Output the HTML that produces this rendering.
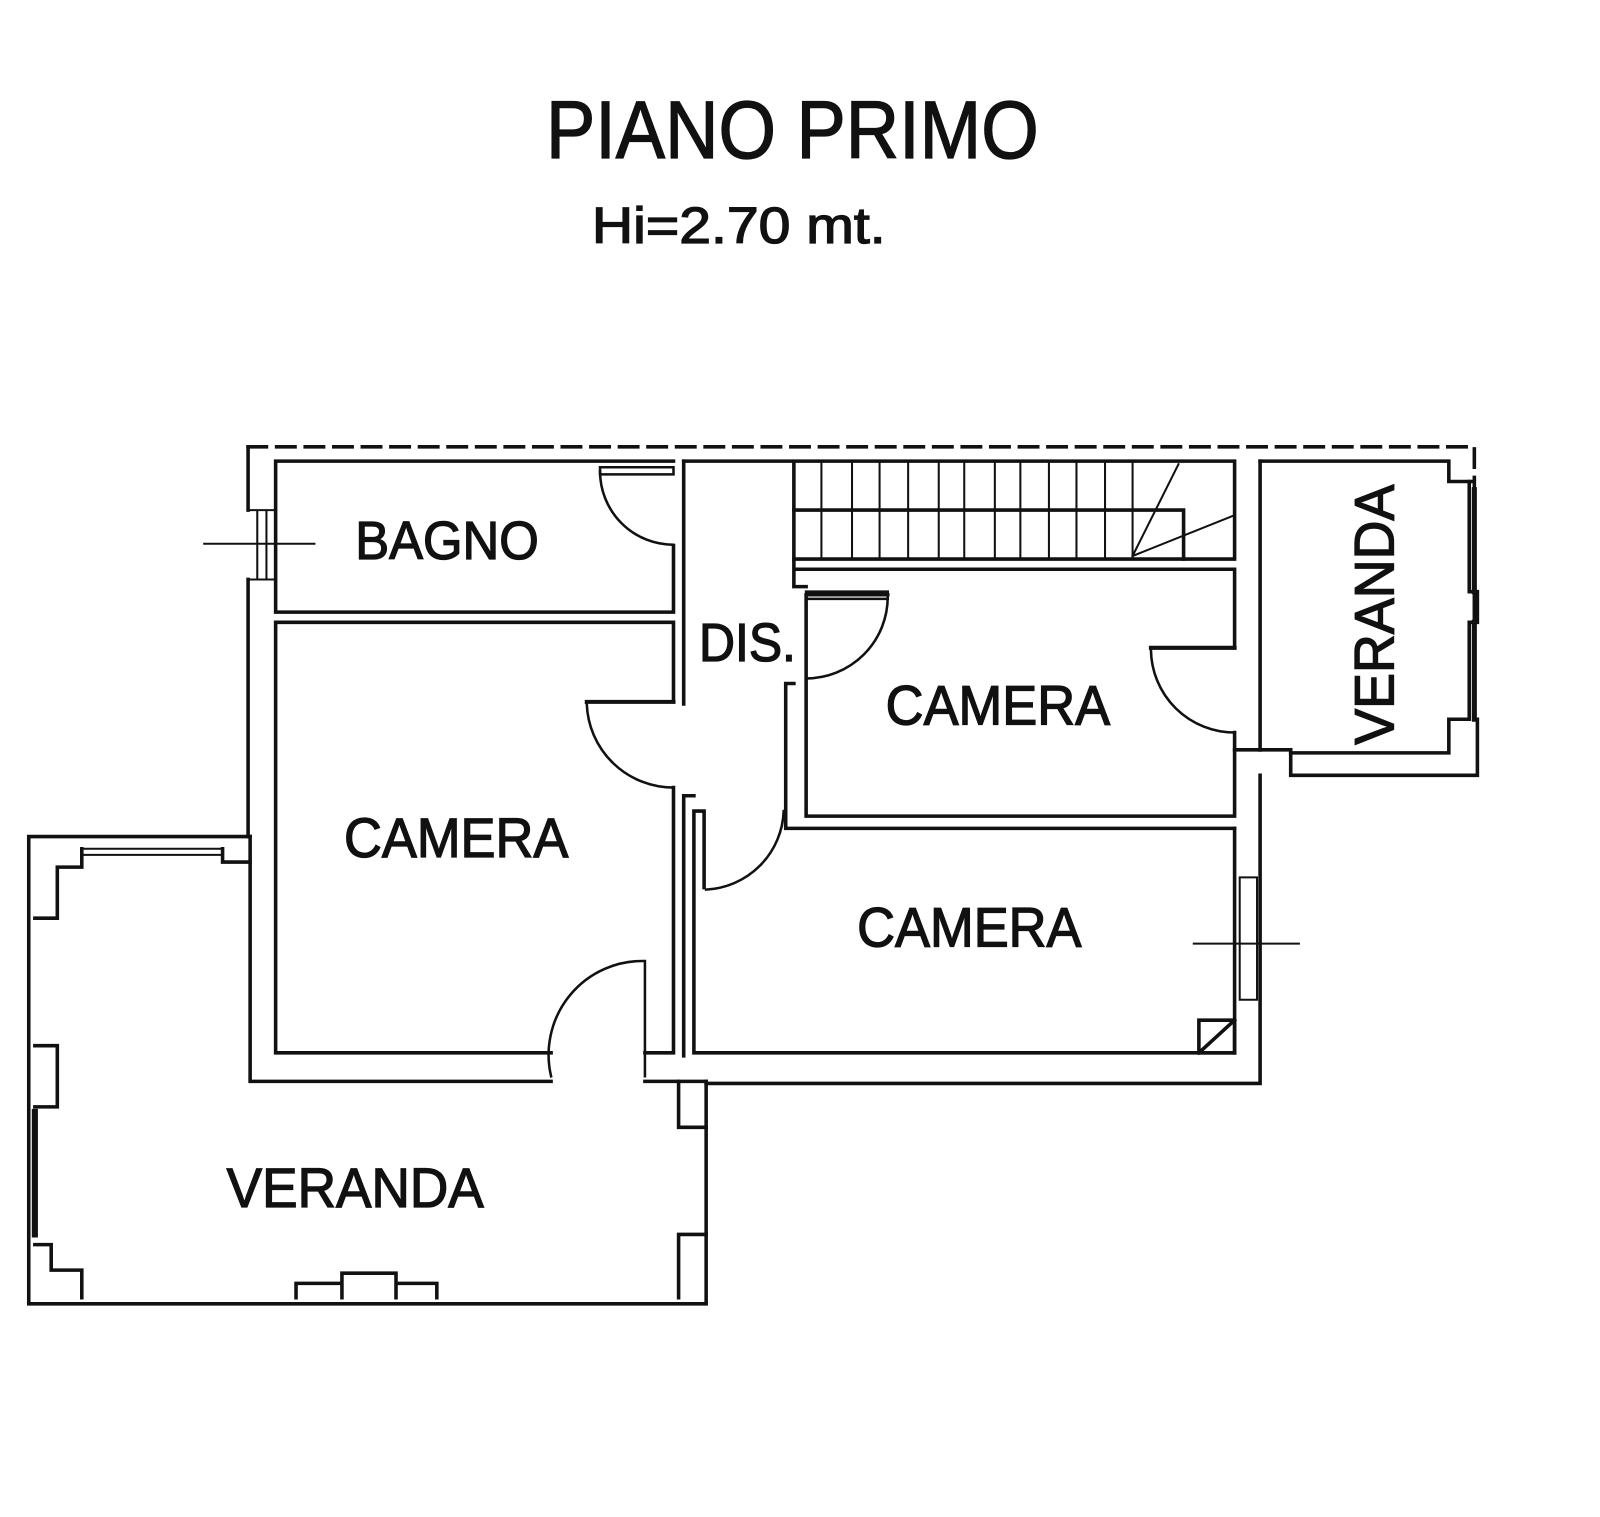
<!DOCTYPE html>
<html><head><meta charset="utf-8"><style>
html,body{margin:0;padding:0;background:#fff;}
svg{display:block;}
text{font-family:"Liberation Sans",Arial,sans-serif;fill:#111;stroke:#111;stroke-width:1.3;}
</style></head><body>
<svg width="1600" height="1517" viewBox="0 0 1568 1487" xmlns="http://www.w3.org/2000/svg">
<g stroke="#111" stroke-width="3.5" fill="none" stroke-linecap="square">
<path d="M243 438 H1445 V470" stroke-dasharray="18 10"/>
<path d="M243 438 V500 M243 568 V820"/>
<path d="M243 500 H270 M243 568 H270 M252 500 V568 M261 500 V568" stroke-width="2"/>
<path d="M200 533 H308" stroke-width="2"/>
<path d="M270 452 H660 M270 452 V600 H660 V535"/>
<path d="M588 458 H660 V465 H588 Z" stroke-width="2.5"/>
<path d="M588 462 A72 72 0 0 0 660 534" stroke-width="2.5"/>
<path d="M670 452 H775"/>
<path d="M270 610 H660 V688 M270 610 V1032 H540 M632 1032 H660 V772"/>
<path d="M575 688 H660" stroke-width="4"/>
<path d="M575 690 A85 85 0 0 0 660 772" stroke-width="2.5"/>
<path d="M632 942 V1055 M540 1055 A92 92 0 0 1 632 942" stroke-width="2.5"/>
<path d="M670 452 V690 M670 780 V1035 M670 780 H680" />
<path d="M245 820 V1060 H540 M632 1060 H692"/>
<path d="M28 820 H245 M28 820 V1278 H692 V1060"/>
<path d="M80 832 H218 M80 838 H218" stroke-width="2"/>
<path d="M34 900 H56 V850 H80 V832 M218 832 V845 H245"/>
<path d="M34 1025 H56 V1085 H34"/>
<path d="M34 1220 H50 V1245 H80 V1272"/>
<path d="M290 1272 V1258 H335 V1248 H388 V1258 H428 V1272 M335 1248 V1272 M388 1248 V1272"/>
<path d="M665 1272 V1210 H692 M665 1060 V1105 H692"/>
<path d="M34 1090 V1210" stroke-width="6"/>
<path d="M680 795 V1032 H1210 M690 795 V870 M680 795 H690"/>
<path d="M692 872 A80 80 0 0 0 768 795" stroke-width="2.5"/>
<path d="M770 795 V812 H1210 M770 795 V670 H778"/>
<path d="M778 452 H1210 V548 H778 Z"/>
<path d="M778 500 H1160 V548"/>
<g stroke-width="2">
<path d="M805 452 V548 M835 452 V548 M862 452 V548 M890 452 V548 M920 452 V548 M945 452 V548 M975 452 V548 M1000 452 V548 M1028 452 V548 M1055 452 V548 M1083 452 V548 M1110 452 V548"/>
<path d="M1110 545 L1155 455 M1110 545 L1210 505"/>
</g>
<path d="M778 558 H1210 V635 M778 548 V575 H790"/>
<path d="M790 583 V800 H1210 V718 M790 583 H870"/>
<path d="M790 580 H870 V587 H790" stroke-width="2.5"/>
<path d="M870 585 A80 80 0 0 1 790 665" stroke-width="2.5"/>
<path d="M1128 635 H1210" stroke-width="4"/>
<path d="M1128 637 A82 82 0 0 0 1210 718" stroke-width="2.5"/>
<path d="M1210 812 V1032 M1235 452 V735 M1235 760 V1062 H692"/>
<path d="M1215 860 H1232 V980 H1215 Z" stroke-width="2"/>
<path d="M1170 925 H1273" stroke-width="2"/>
<path d="M1175 1000 H1210 V1032 H1175 Z M1175 1032 L1210 1000"/>
<path d="M1235 452 H1420 V472 H1445 V705 M1235 735 H1265 V760 H1448 V705 H1445"/>
<path d="M1265 738 H1420 V705 H1440"/>
<path d="M1440 472 V580 H1448 V610 H1440 V705"/>
<path d="M1445 480 V580 M1445 610 V705" stroke-width="5"/>
<path d="M1210 735 H1235" />
</g>
<text x="535" y="155" font-size="80" textLength="483" lengthAdjust="spacingAndGlyphs">PIANO PRIMO</text>
<text x="580" y="238" font-size="50" textLength="288" lengthAdjust="spacingAndGlyphs">Hi=2.70 mt.</text>
<text x="348" y="548" font-size="53" textLength="180" lengthAdjust="spacingAndGlyphs">BAGNO</text>
<text x="685" y="648" font-size="53" textLength="95" lengthAdjust="spacingAndGlyphs">DIS.</text>
<text x="868" y="710" font-size="55" textLength="220" lengthAdjust="spacingAndGlyphs">CAMERA</text>
<text x="337" y="840" font-size="55" textLength="220" lengthAdjust="spacingAndGlyphs">CAMERA</text>
<text x="840" y="928" font-size="55" textLength="220" lengthAdjust="spacingAndGlyphs">CAMERA</text>
<text x="222" y="1183" font-size="55" textLength="252" lengthAdjust="spacingAndGlyphs">VERANDA</text>
<text transform="translate(1366,730) rotate(-90)" x="0" y="0" font-size="55" textLength="255" lengthAdjust="spacingAndGlyphs">VERANDA</text>
</svg>
</body></html>
